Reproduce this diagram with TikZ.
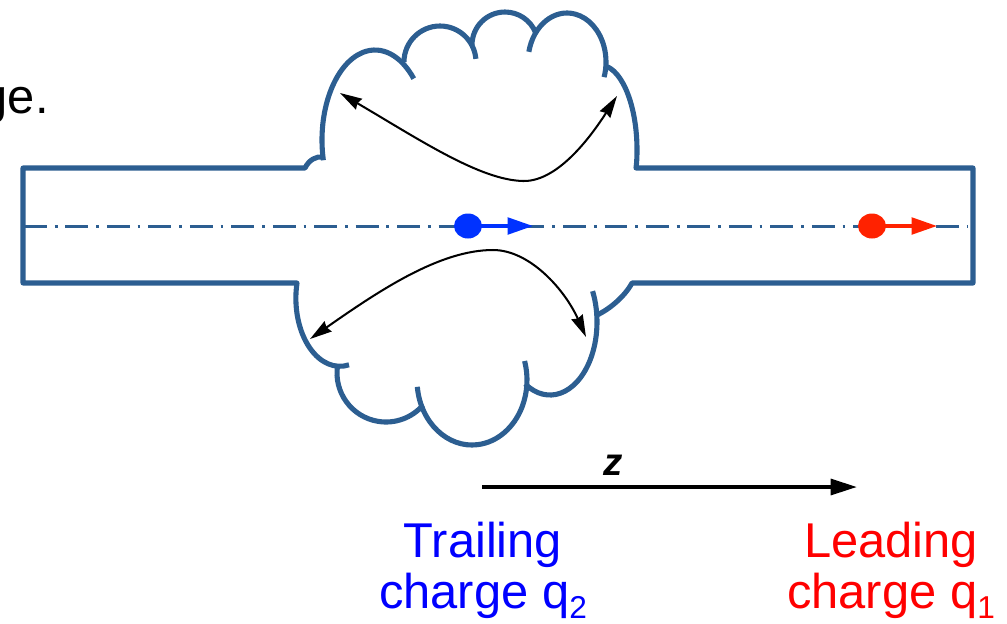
\documentclass[tikz,border=0pt]{standalone}
\usepackage{fontspec}
\setmainfont{Liberation Sans}
\usetikzlibrary{arrows.meta,shapes.geometric}

\definecolor{pipeblue}{RGB}{44,94,145}
\definecolor{trailblue}{RGB}{0,0,255}
\definecolor{dotblue}{RGB}{0,50,255}
\definecolor{leadred}{RGB}{255,0,0}
\definecolor{dotred}{RGB}{255,34,0}

\newcommand{\labelfont}{\fontsize{27.8}{29}\selectfont}
\newcommand{\subfont}{\fontsize{18}{18}\selectfont}

\tikzset{
  pipe/.style={draw=pipeblue, line width=2.9pt, line join=round},
  axisline/.style={draw=pipeblue, line width=1.7pt,
    dash pattern=on 13pt off 4.5pt on 1.6pt off 4.5pt},
  fieldline/.style={draw=black, line width=1.15pt,
    {Stealth[length=12.5pt,width=7pt,inset=1pt]}-{Stealth[length=12.5pt,width=7pt,inset=1pt]}},
  chargedot/.style={ellipse, inner sep=0pt, minimum width=0.56cm, minimum height=0.5cm},
  motion/.style={line width=1.9pt, -{Triangle[length=14.5pt,width=9.5pt]}},
  zaxis/.style={line width=2.1pt, -{Triangle[length=15pt,width=9pt]}},
  caption/.style={inner sep=0pt, anchor=base, font=\labelfont}
}

\begin{document}
\begin{tikzpicture}[x=0.02cm, y=-0.02cm]
  \useasboundingbox (0,0) rectangle (1007,623);

  % left end of the beam pipe, with the small curl and first lower lobe
  \draw[pipe] (323,157) .. controls (316,156) and (309,160) .. (305,168)
    -- (23,168) -- (23,283) -- (297,283)
    arc[start angle=193, end angle=78, x radius=44, y radius=68];

  % upper cavity outline (lobes)
  \draw[pipe] (375,140) ++(167:53 and 90)
    arc[start angle=167, end angle=317, x radius=53, y radius=90];
  \draw[pipe] (440,62) ++(180:36) arc[start angle=180, end angle=355, radius=36];
  \draw[pipe] (505,45) ++(180:33) arc[start angle=180, end angle=338, radius=33];
  \draw[pipe] (567,62) ++(192:39 and 49)
    arc[start angle=192, end angle=378, x radius=39, y radius=49];

  % last upper lobe, right end of the pipe and lower right curl
  \draw[pipe] (600,150) ++(281:37 and 85)
    arc[start angle=281, end angle=369, x radius=37, y radius=85]
    -- (636,168) -- (973,168) -- (973,283) -- (632,283)
    .. controls (625,296) and (610,309) .. (597,315);

  % lower cavity outline (lobes)
  \draw[pipe] (386,373) ++(189:49) arc[start angle=189, end angle=41, radius=49];
  \draw[pipe] (472,380) ++(174:55 and 65)
    arc[start angle=174, end angle=-17, x radius=55, y radius=65];
  \draw[pipe] (550,322) ++(122:47 and 73)
    arc[start angle=122, end angle=-25, x radius=47, y radius=73];

  % beam axis
  \coordinate (axisL) at (24,226);
  \coordinate (axisR) at (968,226);
  \draw[axisline] (axisL) -- (axisR);

  % wakefield lines inside the cavity
  \coordinate (tl) at (340,93);
  \coordinate (tm) at (523,181);
  \coordinate (tr) at (617,96);
  \draw[fieldline] (tl) .. controls (420,140) and (480,180) .. (tm)
    .. controls (560,182) and (595,130) .. (tr);
  \coordinate (bl) at (310,339);
  \coordinate (bm) at (493,250);
  \coordinate (br) at (586,337);
  \draw[fieldline] (bl) .. controls (380,290) and (440,250) .. (bm)
    .. controls (530,250) and (565,290) .. (br);

  % charges and their velocities
  \node[chargedot, fill=dotblue] (q2) at (468,226) {};
  \coordinate (q2tip) at (533,226);
  \draw[motion, draw=dotblue, fill=dotblue] (q2.center) -- (q2tip);
  \node[chargedot, fill=dotred] (q1) at (872,226) {};
  \coordinate (q1tip) at (937,226);
  \draw[motion, draw=dotred, fill=dotred] (q1.center) -- (q1tip);

  % longitudinal direction
  \coordinate (z0) at (482,487);
  \coordinate (z1) at (857,487);
  \draw[zaxis] (z0) -- (z1);
  \node[inner sep=0pt, anchor=base, font=\fontsize{22}{22}\selectfont\bfseries\itshape]
    (zlabel) at (613,475) {z};

  % captions
  \node[inner sep=0pt, anchor=base east, font=\labelfont] (ge) at (49,113) {ge.};
  \node[caption, text=trailblue] (trail1) at (483,557) {Trailing};
  \node[caption, text=trailblue] (trail2) at (483,608)
    {charge q{\subfont\raisebox{-6pt}{2}}};
  \node[caption, text=leadred] (lead1) at (891,557) {Leading};
  \node[caption, text=leadred] (lead2) at (891,608)
    {charge q{\subfont\raisebox{-6pt}{1}}};
\end{tikzpicture}
\end{document}
